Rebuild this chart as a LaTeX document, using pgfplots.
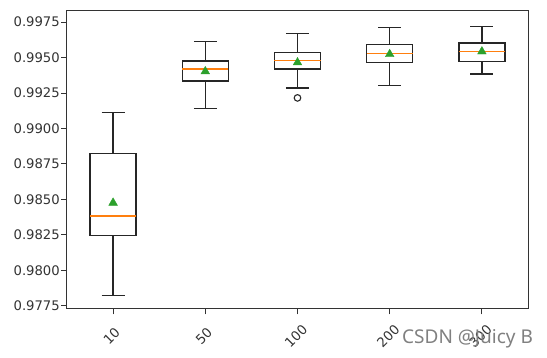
\documentclass[border=0pt]{standalone}
\usepackage{fontspec}
\setmainfont{DejaVu Sans}
\newfontfamily\wmfont{Noto Sans}
\usepackage{pgfplots}
\pgfplotsset{compat=1.18}
\definecolor{mplorange}{HTML}{FF7F0E}
\definecolor{mplgreen}{HTML}{2CA02C}
\begin{document}
\begin{tikzpicture}
\path[use as bounding box] (-67pt,-49pt) rectangle (480pt,309pt);
\begin{axis}[
  scale only axis, width=461pt, height=298pt,
  xmin=0.5, xmax=5.5, ymin=0.97727, ymax=0.99829,
  xtick={1,2,3,4,5}, xticklabels={10,50,100,200,300},
  ytick={0.9775,0.98,0.9825,0.985,0.9875,0.99,0.9925,0.995,0.9975},
  scaled y ticks=false,
  tick align=outside, xtick pos=left, ytick pos=left,
  major tick length=5.5pt,
  axis line style={black!80, line width=1pt},
  every tick/.style={black!80, line width=1pt},
  ticklabel style={font=\fontsize{13.2}{16}\selectfont, text=black!80},
  yticklabel style={/pgf/number format/fixed, /pgf/number format/precision=4,
    /pgf/number format/fixed zerofill, /pgf/number format/assume math mode=true, inner sep=1.5pt},
  xticklabel style={xshift=-1.5pt, yshift=-22pt, rotate=45, anchor=center},
  unbounded coords=jump,
]
% boxes (lower quartile / upper quartile)
\addplot[draw=black!85, line width=1.3pt, line cap=rect, mark=none] coordinates {
 (0.75,0.98245) (1.25,0.98245) (1.25,0.98824) (0.75,0.98824) (0.75,0.98245) (1,nan)
 (1.75,0.99335) (2.25,0.99335) (2.25,0.99477) (1.75,0.99477) (1.75,0.99335) (2,nan)
 (2.75,0.99419) (3.25,0.99419) (3.25,0.99536) (2.75,0.99536) (2.75,0.99419) (3,nan)
 (3.75,0.99468) (4.25,0.99468) (4.25,0.99594) (3.75,0.99594) (3.75,0.99468) (4,nan)
 (4.75,0.99475) (5.25,0.99475) (5.25,0.99604) (4.75,0.99604) (4.75,0.99475)
};
% whiskers and caps
\addplot[draw=black!85, line width=1.3pt, mark=none] coordinates {
 (1,0.98824) (1,0.99114) (1,nan) (0.875,0.99114) (1.125,0.99114) (1,nan)
 (1,0.98245) (1,0.97822) (1,nan) (0.875,0.97822) (1.125,0.97822) (1,nan)
 (2,0.99477) (2,0.99613) (2,nan) (1.875,0.99613) (2.125,0.99613) (2,nan)
 (2,0.99335) (2,0.99142) (2,nan) (1.875,0.99142) (2.125,0.99142) (2,nan)
 (3,0.99536) (3,0.99669) (3,nan) (2.875,0.99669) (3.125,0.99669) (3,nan)
 (3,0.99419) (3,0.99286) (3,nan) (2.875,0.99286) (3.125,0.99286) (3,nan)
 (4,0.99594) (4,0.99711) (4,nan) (3.875,0.99711) (4.125,0.99711) (4,nan)
 (4,0.99468) (4,0.99305) (4,nan) (3.875,0.99305) (4.125,0.99305) (4,nan)
 (5,0.99604) (5,0.99718) (5,nan) (4.875,0.99718) (5.125,0.99718) (5,nan)
 (5,0.99475) (5,0.99384) (5,nan) (4.875,0.99384) (5.125,0.99384)
};
% medians
\addplot[draw=mplorange, line width=1.3pt, mark=none] coordinates {
 (0.75,0.98382) (1.25,0.98382) (1,nan)
 (1.75,0.99419) (2.25,0.99419) (2,nan)
 (2.75,0.99478) (3.25,0.99478) (3,nan)
 (3.75,0.99527) (4.25,0.99527) (4,nan)
 (4.75,0.99545) (5.25,0.99545)
};
% outlier
\addplot[only marks, mark=o, mark size=3.3pt, mark options={draw=black!85, line width=1.1pt}]
  coordinates {(3,0.99216)};
% means
\addplot[only marks, mark=triangle*, mark size=5pt, color=mplgreen]
  coordinates {(1,0.98476) (2,0.99403) (3,0.99466) (4,0.99524) (5,0.99543)};
\end{axis}
\node[anchor=base west, inner sep=0pt, text=black!50, font=\wmfont\fontsize{19}{22}\selectfont] at (335pt,-34.3pt) {CSDN @Juicy B};
\end{tikzpicture}
\end{document}
